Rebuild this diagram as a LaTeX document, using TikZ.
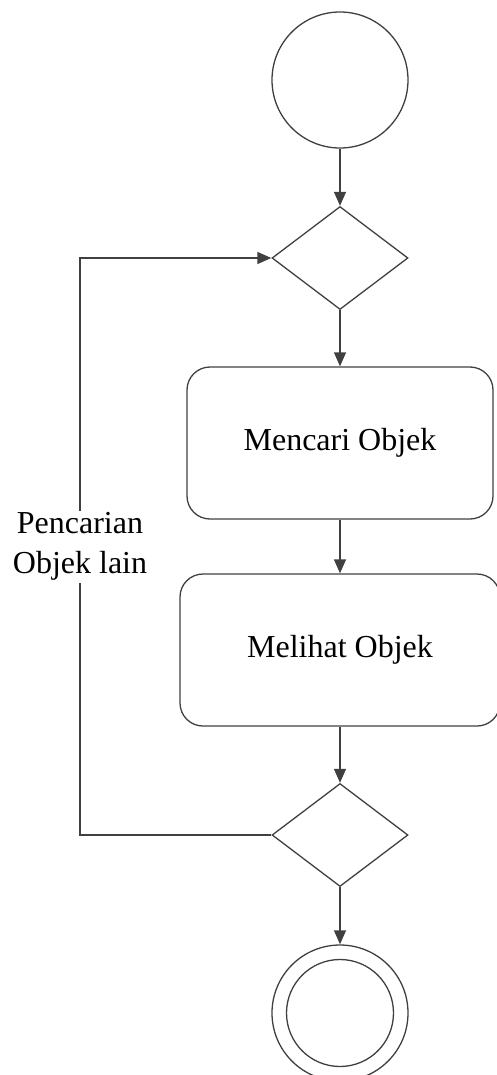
\documentclass[tikz,border=0pt]{standalone}
\usepackage{fontspec}
\setmainfont{Liberation Serif}
\usepackage{tikz}
\usetikzlibrary{positioning, arrows.meta, shapes.geometric}

\begin{document}
\begin{tikzpicture}[
      x=1pt, y=1pt,
      font=\fontsize{32}{40}\selectfont,
      line width=1.3pt, draw=black!75,
      startnode/.style={draw, circle, minimum size=136pt, inner sep=0pt},
      endnode/.style={draw, circle, minimum size=136pt, inner sep=0pt},
      endinner/.style={draw, circle, minimum size=107pt, inner sep=0pt},
      decision/.style={draw, diamond, minimum width=136pt, minimum height=103pt, inner sep=0pt},
      action/.style={draw, rounded corners=23pt, minimum height=152pt, inner sep=0pt},
      flow/.style={-{Triangle[length=14pt, width=12pt]}}
    ]
    \useasboundingbox (0,0) rectangle (497,-1075);
    \node[startnode] (start) at (340,-80) {};
    \node[decision] (dec1) at (340,-258) {};
    \node[action, minimum width=306pt] (act1) at (340,-443) {Mencari Objek};
    \node[action, minimum width=320pt] (act2) at (340,-650) {Melihat Objek};
    \node[decision] (dec2) at (340,-835) {};
    \node[endnode] (final) at (340,-1013) {};
    \node[endinner] (finalin) at (final.center) {};
    \coordinate (loopbot) at (80,-835);
    \coordinate (looptop) at (80,-258);
    \draw[flow] (start) -- (dec1);
    \draw[flow] (dec1) -- (act1);
    \draw[flow] (act1) -- (act2);
    \draw[flow] (act2) -- (dec2);
    \draw[flow] (dec2) -- (final);
    \draw[flow] (dec2.west) -- (loopbot) -- node[fill=white, align=center, inner sep=2pt] (lbl) {Pencarian\\Objek lain} (looptop) -- (dec1.west);
  \end{tikzpicture}
\end{document}
